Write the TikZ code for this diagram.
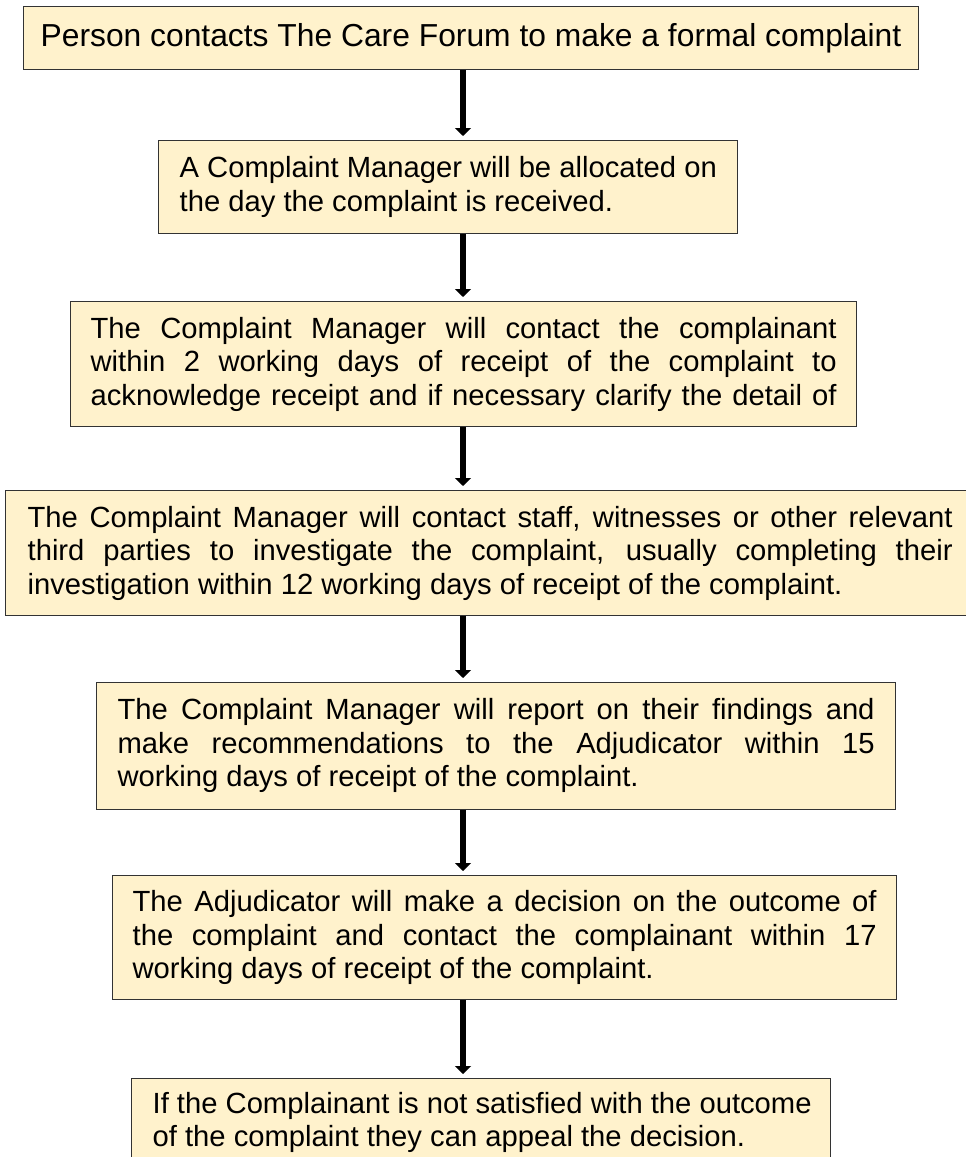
\documentclass[tikz,border=0pt]{standalone}
\usepackage{fontspec}
\setmainfont{Liberation Sans}
\usetikzlibrary{arrows.meta}

\definecolor{boxfill}{HTML}{FFF2CC}
% the font's own word spaces, which stretch (align=left fixes them)
\newcommand{\plainspaces}{\spaceskip=0pt\xspaceskip=0pt\relax}
% one line of a box, either stretched to the full width or left as it is
\newcommand{\spreadline}[1]{{\plainspaces\makebox[\hsize][s]{#1}}}
\newcommand{\plainline}[1]{{\plainspaces\makebox[\hsize][l]{#1}}}

\begin{document}
\begin{tikzpicture}[x=1pt,y=-1pt,
        stage/.style={draw=black!80,line width=1.3pt,fill=boxfill,anchor=north west,
            inner xsep=21pt,inner ysep=0pt,align=left,
            font=\fontsize{29.2}{33.5}\selectfont},
        flow/.style={line width=6pt,-{Triangle[width=16pt,length=8pt]},shorten >=4pt}]
    \useasboundingbox (0,0) rectangle (966,1157);
    \clip (0,0) rectangle (966,1157);
    \fill[white] (0,0) rectangle (966,1157);

    \node[stage,inner xsep=17pt,minimum height=63pt,font=\fontsize{31.8}{36}\selectfont]
        (contact) at (23,6) {\plainspaces Person contacts The Care Forum to make a formal complaint};

    \node[stage,text width=537pt,minimum height=93pt] (allocate) at (158,140)
        {\plainline{A Complaint Manager will be allocated on}\\
         \plainline{the day the complaint is received.}};

    \node[stage,inner xsep=20pt,text width=746pt,minimum height=125pt] (acknowledge) at (70,301)
        {\spreadline{The Complaint Manager will contact the complainant}\\
         \spreadline{within 2 working days of receipt of the complaint to}\\
         \spreadline{acknowledge receipt and if necessary clarify the detail of}};

    \node[stage,inner xsep=22pt,text width=925pt,minimum height=125pt] (investigate) at (5,490)
        {\spreadline{The Complaint Manager will contact staff, witnesses or other relevant}\\
         \spreadline{third parties to investigate the complaint, usually completing their}\\
         \plainline{investigation within 12 working days of receipt of the complaint.}};

    \node[stage,text width=757pt,minimum height=126.5pt] (report) at (96,682)
        {\spreadline{The Complaint Manager will report on their findings and}\\
         \spreadline{make recommendations to the Adjudicator within 15}\\
         \plainline{working days of receipt of the complaint.}};

    \node[stage,inner xsep=20pt,text width=744pt,minimum height=124pt] (decide) at (112,875)
        {\spreadline{The Adjudicator will make a decision on the outcome of}\\
         \spreadline{the complaint and contact the complainant within 17}\\
         \plainline{working days of receipt of the complaint.}};

    \node[stage,text width=657pt,minimum height=88pt] (appeal) at (131,1078)
        {\plainline{If the Complainant is not satisfied with the outcome}\\
         \plainline{of the complaint they can appeal the decision.}};

    % arrows all drop along the same vertical line
    \coordinate (axis) at (463,0);
    \draw[flow] (contact.south -| axis) -- (allocate.north -| axis);
    \draw[flow] (allocate.south -| axis) -- (acknowledge.north -| axis);
    \draw[flow] (acknowledge.south -| axis) -- (investigate.north -| axis);
    \draw[flow] (investigate.south -| axis) -- (report.north -| axis);
    \draw[flow] (report.south -| axis) -- (decide.north -| axis);
    \draw[flow] (decide.south -| axis) -- (appeal.north -| axis);
\end{tikzpicture}
\end{document}
